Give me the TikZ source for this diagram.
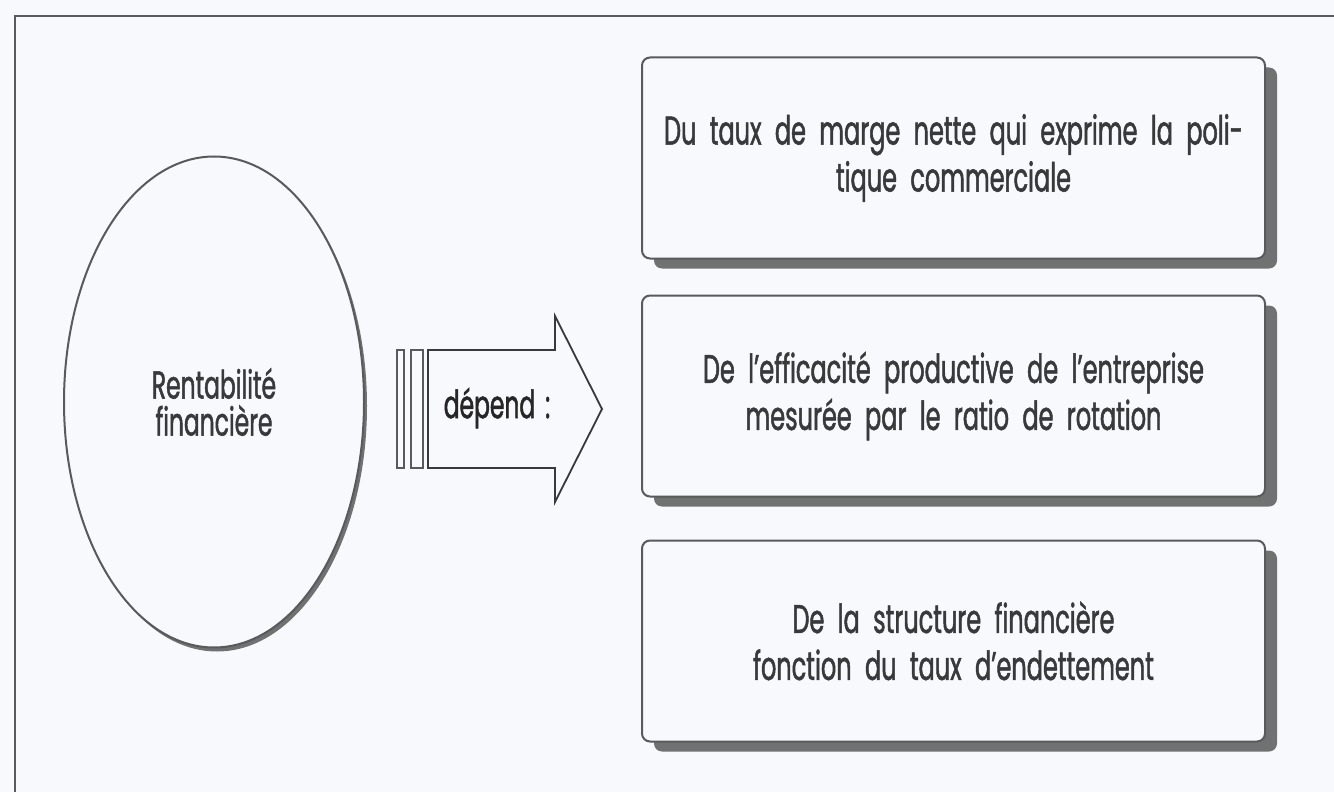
\documentclass[tikz,border=0pt]{standalone}
\usepackage{fontspec}
\setmainfont{Poppins}[FakeStretch=0.6, WordSpace=0.7, FakeBold=1.2]
\usetikzlibrary{positioning,shapes.geometric,shadows}

\definecolor{fond}{RGB}{247,249,252}
\definecolor{trait}{RGB}{88,90,92}
\definecolor{ombre}{RGB}{112,114,114}
\definecolor{encre}{RGB}{55,57,58}

\begin{document}
\begin{tikzpicture}[
  x=0.5pt, y=-0.5pt,
  cadre/.style={draw=trait, line width=1pt, fill=fond, rounded corners=4pt,
    minimum width=311.5pt, minimum height=100.5pt, align=center, text width=300pt,
    text=encre, font=\fontsize{20}{23.5}\selectfont,
    drop shadow={shadow xshift=6pt, shadow yshift=-5pt, fill=ombre, opacity=1}},
  bulle/.style={draw=trait, line width=1pt, fill=fond, ellipse, inner sep=0pt,
    minimum width=150pt, minimum height=245.5pt, align=center,
    text=encre, font=\fontsize{19.5}{18.5}\selectfont,
    drop shadow={shadow xshift=1.5pt, shadow yshift=-2pt, fill=ombre, opacity=1}},
  barre/.style={draw=trait, line width=0.8pt, fill=fond},
  fleche/.style={draw=encre, line width=0.9pt, fill=fond, line join=miter},
  mot/.style={font=\fontsize{19.5}{20}\selectfont, text=black!85}
]

% ---------- fond et cadre ----------
\fill[fond] (0,0) rectangle (1334,792);
\useasboundingbox (0,0) rectangle (1334,792);
\draw[trait, line width=1pt] (15,792) -- (15,16) -- (1334,16);

% ---------- nodes ----------
\node[bulle] (RF) at (214,402) {Rentabilité\\financière};
\node[cadre] (B1) at (953.5,158) {Du taux de marge nette qui exprime la poli-\\tique commerciale};
\node[cadre, below=17.5pt of B1] (B2) {De l’efficacité productive de l’entreprise\\mesurée par le ratio de rotation};
\node[cadre, below=21pt of B2] (B3) {De la structure financière\\fonction du taux d’endettement};

% ---------- fleche ----------
\draw[barre] (397,350) rectangle (404,468);
\draw[barre] (411,350) rectangle (423,468);
\draw[fleche] (428,350) -- (555,350) -- (555,316) -- (602,409)
  -- (555,502) -- (555,468) -- (428,468) -- cycle;
\node[mot] (dep) at (497,408) {dépend\hspace{5pt}:};
\end{tikzpicture}
\end{document}
